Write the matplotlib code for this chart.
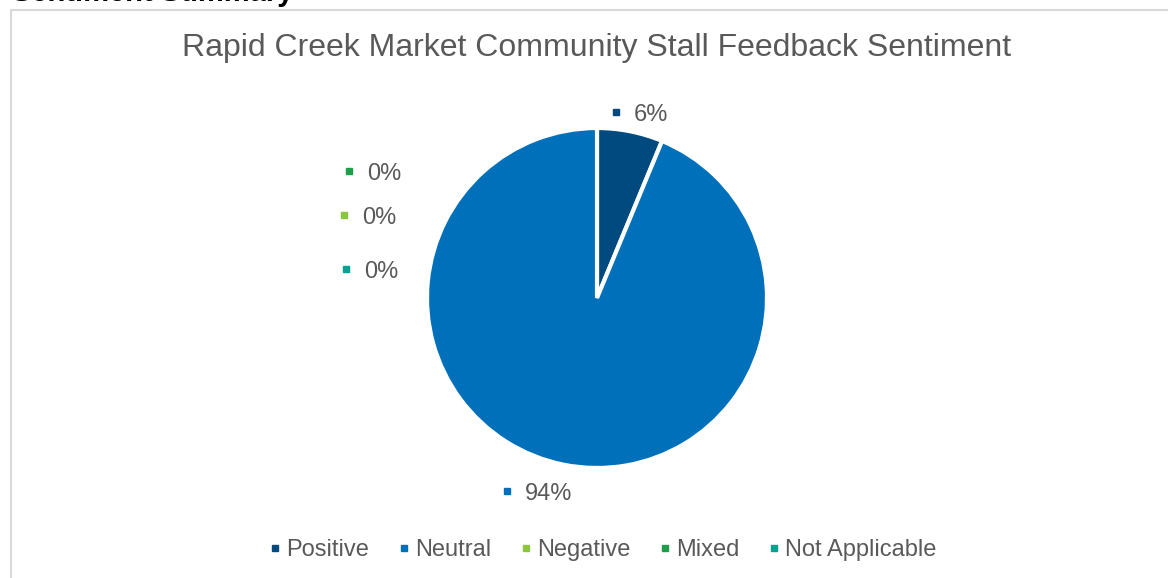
import matplotlib
matplotlib.use("Agg")
import matplotlib.pyplot as plt
from matplotlib.lines import Line2D
from matplotlib.patches import Rectangle

plt.rcParams["font.family"] = ["Liberation Sans", "DejaVu Sans"]

categories = ["Positive", "Neutral", "Negative", "Mixed", "Not Applicable"]
counts = [1, 15, 0, 0, 0]
colors = ["#004A80", "#0070BA", "#8CC63F", "#1E9E4A", "#00A38F"]
title = "Rapid Creek Market Community Stall Feedback Sentiment"

W, H = 1168, 578
fig = plt.figure(figsize=(W / 100, H / 100), dpi=100)
ax = fig.add_axes([0, 0, 1, 1])

# chart frame, runs off the right and bottom edge
ax.add_patch(Rectangle((11, -20), W, H - 10 + 20, fill=False,
                       edgecolor="#d9d9d9", linewidth=1.5))

# heading cut off at the top of the page
ax.text(12, H - 1, "Sentiment Summary", fontsize=21, fontweight="bold",
        color="black", va="baseline", ha="left")

ax.text(597, H - 48, title, fontsize=23, color="#595959",
        ha="center", va="center")

cx, cy, r = 597, H - 298, 170
nonzero = [i for i, v in enumerate(counts) if v > 0]
ax.pie([counts[i] for i in nonzero],
       colors=[colors[i] for i in nonzero],
       startangle=90, counterclock=False,
       center=(cx, cy), radius=r, frame=True,
       wedgeprops=dict(edgecolor="white", linewidth=3))
ax.set_xlim(0, W)
ax.set_ylim(0, H)
ax.set_aspect("equal")
ax.axis("off")

lab_color = "#595959"

# where each data label's marker sits (pixels from top-left)
label_pos = {"Positive": (616, 112), "Neutral": (507, 491),
             "Mixed": (349, 171), "Negative": (344, 215),
             "Not Applicable": (346, 269)}

total = sum(counts)
for i, cat in enumerate(categories):
    mx, my = label_pos[cat]
    pct = round(100 * counts[i] / total)
    ax.plot(mx, H - my, marker="s", markersize=5, color=colors[i],
            linestyle="none")
    ax.text(mx + 18, H - my - 3, f"{pct}%", fontsize=17, color=lab_color,
            ha="left", va="center")

handles = [Line2D([], [], marker="s", linestyle="none", markersize=5,
                  color=c) for c in colors]
leg = fig.legend(handles, categories, loc="center", ncol=5,
                 bbox_to_anchor=(601 / W, 1 - 550 / H), frameon=False,
                 fontsize=17, handletextpad=0.07, columnspacing=1.07,
                 handlelength=0.8)
for t in leg.get_texts():
    t.set_color(lab_color)

fig.savefig("out.png", dpi=100)
